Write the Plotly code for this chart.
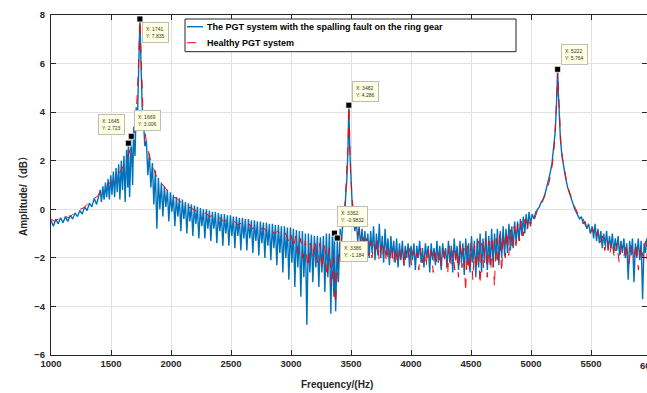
import plotly.graph_objects as go

# ---------------- data ----------------
fault_freq = [
    1000, 1020, 1040, 1060, 1080, 1100, 1120, 1140, 1160, 1180, 1200, 1220, 1240, 1260, 1280, 1300,
    1320, 1340, 1360, 1380, 1400,
    1410, 1420, 1432, 1442, 1454, 1464, 1476, 1486, 1498, 1508, 1520, 1530, 1542, 1552, 1564, 1574,
    1586, 1596, 1608, 1618, 1630, 1640, 1645, 1655, 1669, 1680, 1690, 1700, 1710, 1720, 1730, 1741,
    1750, 1760,
    1770, 1782, 1795, 1807, 1820, 1832, 1845, 1857, 1870, 1882, 1895, 1907, 1920, 1932, 1945, 1957,
    1970, 1982, 1995, 2007, 2020, 2032, 2045, 2057, 2070, 2082, 2095, 2107, 2120, 2132, 2145, 2157,
    2170, 2182, 2195, 2207, 2220, 2232, 2245, 2257, 2270, 2282, 2295, 2307, 2320, 2332, 2345, 2357,
    2370, 2382, 2395, 2407, 2420, 2432, 2445, 2457, 2470, 2482, 2495, 2507, 2520, 2532, 2545, 2557,
    2570, 2582, 2595, 2607, 2620, 2632, 2645, 2657, 2670, 2682, 2695, 2707, 2720, 2732, 2745, 2757,
    2770, 2782, 2795, 2807, 2820, 2832, 2845, 2857, 2870, 2882, 2895, 2907, 2920, 2932, 2945, 2957,
    2970, 2982, 2995, 3007, 3020, 3032, 3045, 3057, 3070, 3082, 3095, 3107, 3120, 3132, 3145, 3157,
    3170, 3182, 3195, 3207, 3220, 3232, 3245, 3257, 3270, 3282, 3295, 3307, 3320, 3332, 3345, 3357,
    3362, 3372, 3386, 3395, 3410, 3420, 3435, 3445, 3455, 3465, 3475, 3482, 3490, 3500, 3510, 3520,
    3532, 3544, 3556, 3568, 3580, 3592, 3604, 3616, 3628, 3640, 3652, 3664, 3676, 3688, 3700, 3712,
    3724, 3736, 3748, 3760, 3772, 3784, 3796, 3808, 3820, 3832, 3844, 3856, 3868, 3880, 3892, 3904,
    3916, 3928, 3940, 3952, 3964, 3976, 3988, 4000, 4012, 4024, 4036, 4048, 4060, 4072, 4084, 4096,
    4108, 4120, 4132, 4144, 4156, 4168, 4180, 4192, 4204, 4216, 4228, 4240, 4252, 4264, 4276, 4288,
    4300, 4312, 4324, 4336, 4348, 4360, 4372, 4384, 4396, 4408, 4420, 4432, 4444, 4456, 4468, 4480,
    4492, 4504, 4516, 4528, 4540, 4552, 4564, 4576, 4588, 4600, 4612, 4624, 4636, 4648, 4660, 4672,
    4684, 4696, 4708, 4720, 4732, 4744, 4756, 4768, 4780, 4792, 4804, 4816, 4828, 4840, 4852, 4864,
    4876, 4888, 4900, 4912, 4924, 4936, 4948, 4960, 4972, 4984, 4996, 5010, 5025, 5040, 5055, 5070,
    5085, 5100, 5115, 5130, 5145, 5160, 5175, 5190, 5200, 5210, 5216, 5222, 5228, 5235, 5245, 5258,
    5272, 5288, 5305, 5325, 5345, 5365, 5385, 5405, 5420, 5435, 5450, 5465, 5480, 5495, 5510, 5522,
    5534, 5546, 5558, 5570, 5582, 5594, 5606, 5618, 5630, 5642, 5654, 5666, 5678, 5690, 5702, 5714,
    5726, 5738, 5750, 5762, 5774, 5786, 5798, 5810, 5822, 5834, 5846, 5858, 5870, 5882, 5894, 5906,
    5918, 5930, 5942, 5954, 5966, 5975,
]
fault_amp = [
    -0.45, -0.7, -0.4, -0.6, -0.35, -0.55, -0.3, -0.5, -0.25, -0.4, -0.15, -0.3, -0.05, -0.2, 0.1, -0.05,
    0.25, 0.1, 0.45, 0.2, 0.6,
    0.8, 0.3, 0.95, 0.4, 1.1, 0.5, 1.25, 0.4, 1.4, 0.6, 1.55, 0.5, 1.7, 0.7, 1.85, 0.4,
    2.0, 0.8, 2.2, 0.3, 2.45, 0.9, 2.723, 0.5, 3.006, 1.0, 3.4, 2.2, 4.2, 3.6, 5.8, 7.835,
    6.0, 4.2,
    3.7, 2.6, 2.8, 1.4, 2.3, 0.9, 1.9, 0.2, 1.6, -0.8, 1.3, 0.0, 1.1, -0.3, 0.95, 0.1,
    0.8, -0.5, 0.7, -0.1, 0.6, -0.7, 0.5, -0.3, 0.45, -0.9, 0.4, -0.4, 0.3, -1.0, 0.25, -0.5,
    0.2, -1.1, 0.15, -0.6, 0.1, -1.2, 0.05, -0.7, 0.0, -1.2, 0.0, -0.8, -0.05, -1.3, -0.1, -0.8,
    -0.1, -1.4, -0.15, -0.9, -0.2, -1.5, -0.2, -1.0, -0.25, -1.5, -0.25, -1.1, -0.3, -1.6, -0.3, -1.1,
    -0.35, -1.7, -0.35, -1.2, -0.4, -1.7, -0.4, -1.2, -0.45, -1.8, -0.45, -1.3, -0.5, -1.9, -0.5, -1.4,
    -0.55, -2.0, -0.55, -1.5, -0.6, -2.1, -0.6, -1.6, -0.65, -2.3, -0.65, -1.8, -0.7, -2.6, -0.7, -2.0,
    -0.75, -2.9, -0.75, -2.2, -0.8, -3.2, -0.85, -2.4, -0.9, -3.6, -0.9, -2.8, -1.0, -4.75, -1.0, -2.6,
    -1.05, -3.0, -1.1, -2.4, -1.1, -3.2, -1.15, -2.6, -1.1, -3.4, -1.0, -2.8, -1.0, -4.3, -0.9, -3.6,
    -0.9832, -4.2, -1.184, -3.0, -0.8, -1.5, -0.2, -0.6, 0.5, 1.2, 2.5, 4.286, 2.4, 1.0, 0.2, -0.3,
    -0.9, -0.5, -1.3, -0.7, -1.5, -0.8, -1.7, -0.9, -1.9, -1.0, -2.0, -0.9, -1.8, -0.7, -2.1, -1.0,
    -1.9, -0.6, -2.0, -1.1, -2.2, -0.8, -1.9, -1.2, -2.3, -1.1, -2.0, -1.3, -2.2, -1.2, -2.4, -1.4,
    -2.1, -1.3, -2.3, -1.5, -2.0, -1.4, -2.4, -1.5, -2.1, -1.4, -2.5, -1.5, -2.0, -1.3, -2.2, -1.6,
    -2.4, -1.4, -2.0, -1.5, -2.6, -1.4, -2.1, -1.6, -2.3, -1.3, -2.2, -1.5, -2.5, -1.4, -2.0, -1.6,
    -2.4, -1.3, -2.2, -1.5, -2.6, -1.2, -2.1, -1.5, -2.5, -1.3, -2.2, -1.4, -2.7, -1.2, -2.3, -1.4,
    -2.6, -1.1, -2.2, -1.3, -2.8, -1.2, -2.4, -1.0, -2.6, -1.2, -2.2, -0.9, -2.5, -1.1, -2.3, -0.8,
    -2.4, -1.0, -2.1, -0.8, -2.3, -0.9, -2.0, -0.7, -1.9, -0.8, -1.8, -0.6, -1.7, -0.7, -1.6, -0.5,
    -1.4, -0.5, -1.3, -0.4, -1.1, -0.3, -1.0, -0.2, -0.8, -0.1, -0.6, -0.2, -0.4, -0.1, 0.0, 0.1,
    0.3, 0.4, 0.6, 0.9, 1.1, 1.5, 1.9, 2.5, 3.1, 4.0, 4.8, 5.764, 4.8, 3.8, 2.9, 2.2,
    1.7, 1.3, 0.9, 0.6, 0.3, 0.0, -0.2, -0.4, -0.3, -0.6, -0.5, -0.8, -0.6, -1.0, -0.7, -1.2,
    -0.6, -1.3, -0.8, -1.4, -0.9, -1.6, -1.0, -1.5, -0.9, -1.7, -1.1, -1.6, -1.0, -1.8, -1.2, -1.7,
    -1.1, -1.9, -1.3, -1.8, -1.2, -2.0, -1.4, -2.9, -1.3, -1.9, -1.2, -3.0, -1.4, -2.0, -1.2, -2.1,
    -1.3, -3.7, -1.4, -1.8, -1.2, -1.6,
]

healthy_freq = [
    1000, 1030, 1060, 1090, 1120, 1150, 1180, 1210, 1240, 1270, 1300, 1330, 1360, 1390, 1420, 1450,
    1480, 1510, 1540, 1570, 1600, 1625, 1650, 1675, 1695, 1710, 1722, 1732, 1741, 1748, 1756, 1766,
    1780, 1800, 1825, 1850, 1875, 1900, 1930, 1960, 1990, 2020, 2050, 2080, 2110, 2140, 2170, 2200,
    2230, 2260, 2290, 2320, 2350, 2380, 2410, 2440, 2470, 2500, 2530, 2560, 2590, 2620, 2650, 2680,
    2710, 2740, 2770, 2800, 2830, 2860, 2890, 2920, 2950, 2980, 3000, 3020, 3040, 3060, 3080, 3100,
    3120, 3140, 3160, 3180, 3200, 3220, 3240, 3260, 3280, 3300, 3320, 3340, 3355, 3370, 3385, 3400,
    3420, 3440, 3455, 3467, 3476, 3482, 3488, 3497, 3510, 3525, 3540,
    3555, 3570, 3585, 3600, 3615, 3630, 3645, 3660, 3675, 3690, 3705, 3720, 3735, 3750, 3765, 3780,
    3795, 3810, 3825, 3840, 3855, 3870, 3885, 3900, 3915, 3930, 3945, 3960, 3975, 3990, 4005, 4020,
    4035, 4050, 4065, 4080, 4095, 4110, 4125, 4140, 4155, 4170, 4185, 4200, 4215, 4230, 4245, 4260,
    4275, 4290, 4305, 4320, 4335, 4350, 4365, 4380, 4395, 4410, 4425, 4440, 4455, 4470, 4485, 4500,
    4515, 4530, 4545, 4560, 4575, 4590, 4605, 4620, 4635, 4650, 4665, 4680, 4695, 4710, 4725, 4740,
    4755, 4770, 4785, 4800, 4815, 4830, 4845, 4860, 4875, 4890, 4905, 4920, 4935, 4950, 4965, 4980,
    4995, 5010, 5030, 5050, 5070, 5090, 5110, 5130, 5150, 5170, 5185, 5198, 5208, 5215, 5222, 5229,
    5237, 5248, 5262, 5278, 5295, 5315, 5335, 5355, 5375, 5395, 5415, 5435, 5455, 5475, 5495, 5515,
    5535, 5555, 5575, 5595, 5615, 5635, 5655, 5675, 5695, 5715, 5735, 5755, 5775, 5795, 5815, 5835,
    5855, 5875, 5895, 5915, 5935, 5955, 5975,
]
healthy_amp = [
    -0.4, -0.5, -0.4, -0.45, -0.3, -0.35, -0.2, -0.15, 0.0, 0.05, 0.2, 0.3, 0.45, 0.55, 0.75, 0.85,
    1.05, 1.15, 1.35, 1.5, 1.75, 1.95, 2.3, 2.75, 3.3, 4.0, 5.0, 6.4, 7.8, 6.8, 5.2, 4.1,
    3.3, 2.6, 2.1, 1.7, 1.4, 1.2, 1.0, 0.8, 0.65, 0.5, 0.45, 0.3, 0.25, 0.1, 0.05, -0.05,
    -0.1, -0.2, -0.15, -0.3, -0.25, -0.4, -0.35, -0.5, -0.45, -0.55, -0.5, -0.65, -0.55, -0.7, -0.6, -0.8,
    -0.7, -0.85, -0.75, -0.95, -0.8, -1.0, -0.9, -1.1, -0.95, -1.3, -1.0, -1.6, -1.1, -1.8, -1.2, -2.0,
    -1.3, -2.4, -1.4, -2.0, -1.3, -2.2, -1.4, -2.5, -1.5, -2.8, -1.6, -3.2, -2.0, -3.9, -2.6, -1.6,
    -1.2, -0.4, 0.6, 1.6, 2.8, 4.25, 2.9, 1.5, 0.4, -0.3, -0.8,
    -1.1, -0.8, -1.5, -1.1, -1.7, -1.2, -1.9, -1.3, -2.0, -1.4, -1.9, -1.3, -2.1, -1.5, -1.9, -1.4,
    -2.2, -1.6, -2.0, -1.5, -2.3, -1.6, -2.1, -1.7, -2.2, -1.6, -2.4, -1.7, -2.0, -1.6, -2.3, -1.7,
    -2.1, -1.8, -2.5, -1.6, -2.2, -1.7, -2.4, -1.6, -2.1, -1.7, -2.6, -1.6, -2.2, -1.8, -2.4, -1.6,
    -2.2, -1.7, -2.7, -1.5, -2.3, -1.7, -2.5, -1.6, -2.8, -1.5, -2.4, -1.6, -3.4, -1.5, -2.6, -1.4,
    -2.9, -1.5, -2.5, -1.3, -3.1, -1.4, -2.4, -1.2, -2.8, -1.3, -2.5, -1.1, -3.2, -1.2, -2.3, -1.0,
    -2.6, -1.0, -2.0, -0.9, -1.9, -0.8, -1.7, -0.7, -1.5, -0.6, -1.3, -0.5, -1.1, -0.4, -0.9, -0.3,
    -0.7, -0.3, -0.4, -0.1, 0.1, 0.25, 0.5, 0.8, 1.1, 1.6, 2.1, 2.9, 3.8, 4.7, 5.7, 4.7,
    3.7, 2.8, 2.1, 1.6, 1.2, 0.8, 0.5, 0.2, 0.0, -0.2, -0.45, -0.4, -0.7, -0.65, -0.95, -0.8,
    -1.2, -0.9, -1.4, -1.1, -1.7, -1.2, -1.9, -1.3, -2.0, -1.4, -2.2, -1.5, -1.9, -1.4, -2.3, -1.5,
    -2.1, -1.4, -2.5, -1.5, -2.0, -1.3, -2.4,
]

tip_freq = [1741, 1645, 1669, 3482, 3362, 3386, 5222]
tip_amp = [7.835, 2.723, 3.006, 4.286, -0.9832, -1.184, 5.764]
tip_text = ["7.835", "2.723", "3.006", "4.286", "-0.9832", "-1.184", "5.764"]

x_ticks = [1000, 1500, 2000, 2500, 3000, 3500, 4000, 4500, 5000, 5500]
y_ticks = [-6, -4, -2, 0, 2, 4, 6, 8]

series_names = ["The PGT system with the spalling fault on the ring gear", "Healthy PGT system"]

# ---------------- figure ----------------
FONT = "Liberation Sans, Arial, Helvetica, sans-serif"
AX = "#262626"
W, H = 647, 393
ML, MR, MT, MB = 51, 0, 15, 38
PW, PH = W - ML - MR, H - MT - MB


def px(xp):
    return (xp - ML) / PW


def py(yp):
    return (H - MB - yp) / PH


fig = go.Figure()
fig.add_trace(go.Scatter(x=fault_freq, y=fault_amp, mode="lines", name=series_names[0],
                         line=dict(color="#0072BD", width=1.4), showlegend=False))
fig.add_trace(go.Scatter(x=healthy_freq, y=healthy_amp, mode="lines", name=series_names[1],
                         line=dict(color="#FF0000", width=1, dash="dash"), showlegend=False))
fig.add_trace(go.Scatter(x=tip_freq, y=tip_amp, mode="markers", showlegend=False,
                         marker=dict(symbol="square", size=6, color="black",
                                     line=dict(color="white", width=0.8))))

x_range_end = 1000 + PW * 500 / 60.0

axis_common = dict(showline=True, linecolor=AX, linewidth=1, mirror="ticks", ticks="inside",
                   ticklen=5, tickcolor=AX, showgrid=True, gridcolor="#e2e2e2", gridwidth=1,
                   zeroline=False,
                   tickfont=dict(family=FONT, size=9.5, color="#262626", weight="bold"))

fig.update_xaxes(range=[1000, x_range_end], tickvals=x_ticks, **axis_common)
fig.update_yaxes(range=[-6, 8], tickvals=y_ticks, ticklabelstandoff=3, **axis_common)

annotations = []
# data tips: (xanchor, yanchor, xshift, yshift)
tip_layout = [("left", "top", 2, -3), ("right", "bottom", -3, 8), ("left", "bottom", 3, 5),
              ("left", "bottom", 3, 3), ("left", "bottom", 3, 6), ("left", "top", 3, -3),
              ("left", "bottom", 3, 4)]
for f, a, t, (xa, ya, xs, ys) in zip(tip_freq, tip_amp, tip_text, tip_layout):
    annotations.append(dict(x=f, y=a, xref="x", yref="y", showarrow=False,
                            text=f"X: {f}<br>Y: {t}", align="left",
                            xanchor=xa, yanchor=ya, xshift=xs, yshift=ys,
                            font=dict(family=FONT, size=5, color="#333333"),
                            bgcolor="#FFFFE1", bordercolor="#BDBDBD", borderwidth=1, borderpad=3))

# manual legend text
annotations.append(dict(x=px(205), y=py(26.7), xref="paper", yref="paper", showarrow=False,
                        text=series_names[0], xanchor="left", yanchor="middle",
                        font=dict(family=FONT, size=9, color="black", weight="bold")))
annotations.append(dict(x=px(205), y=py(42.7), xref="paper", yref="paper", showarrow=False,
                        text=series_names[1], xanchor="left", yanchor="middle",
                        font=dict(family=FONT, size=9, color="black", weight="bold")))
# axis titles
annotations.append(dict(x=px(337), y=py(385), xref="paper", yref="paper", showarrow=False,
                        text="Frequency/(Hz)", xanchor="center", yanchor="middle",
                        font=dict(family=FONT, size=10, color="#262626", weight="bold")))
annotations.append(dict(x=px(23), y=py(194), xref="paper", yref="paper", showarrow=False,
                        text="Amplitude/（dB）", textangle=-90, xanchor="center", yanchor="middle",
                        font=dict(family=FONT + ", Noto Sans CJK SC", size=10, color="#262626",
                                  weight="bold")))
# clipped 6000 tick label
annotations.append(dict(x=px(650), y=py(365.7), xref="paper", yref="paper", showarrow=False,
                        text="6000", xanchor="center", yanchor="middle",
                        font=dict(family=FONT, size=9.5, color="#262626", weight="bold")))

shapes = [
    dict(type="rect", xref="paper", yref="paper", x0=px(185), x1=px(516), y0=py(51.7), y1=py(19),
         fillcolor="white", line=dict(color="#262626", width=1), layer="above"),
    dict(type="line", xref="paper", yref="paper", x0=px(187), x1=px(203), y0=py(26.7), y1=py(26.7),
         line=dict(color="#0072BD", width=1.4), layer="above"),
    dict(type="line", xref="paper", yref="paper", x0=px(187), x1=px(203), y0=py(42.7), y1=py(42.7),
         line=dict(color="#FF0000", width=1, dash="dash"), layer="above"),
]

fig.update_layout(width=W, height=H, margin=dict(l=ML, r=MR, t=MT, b=MB),
                  plot_bgcolor="white", paper_bgcolor="white",
                  annotations=annotations, shapes=shapes, showlegend=False)

fig.write_html("out.html")
